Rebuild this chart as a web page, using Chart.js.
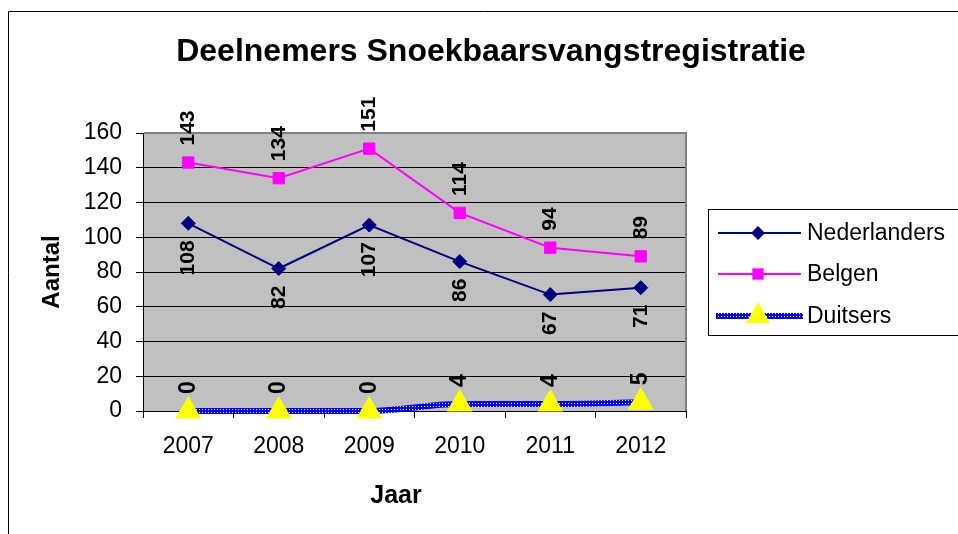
<!DOCTYPE html>
<html>
<head>
<meta charset="utf-8">
<script src="https://cdn.jsdelivr.net/npm/chart.js@4.4.0/dist/chart.umd.min.js"></script>
<style>
  html, body { margin: 0; padding: 0; background: #fff; }
</style>
</head>
<body>
<canvas id="snoekChart" width="958" height="534"></canvas>
<script>
/* ============================================================
   DATA
============================================================ */

const jaren        = ["2007", "2008", "2009", "2010", "2011", "2012"];
const nederlanders = [108, 82, 107, 86, 67, 71];
const belgen       = [143, 134, 151, 114, 94, 89];
const duitsers     = [0, 0, 0, 4, 4, 5];
const yTicks       = [0, 20, 40, 60, 80, 100, 120, 140, 160];

const FONT = '"Liberation Sans", Arial, sans-serif';

/* patroon voor de Duitsers-lijn (blauw met witte stipjes) */
const pat = document.createElement("canvas");
pat.width = 3; pat.height = 3;
const pctx = pat.getContext("2d");
pctx.fillStyle = "#0000ff";
pctx.fillRect(0, 0, 3, 3);
pctx.fillStyle = "#ffffff";
pctx.fillRect(1, 1, 1, 1);
const blauwPatroon = pctx.createPattern(pat, "repeat");

/* ============================================================
   PLUGIN: grijs plotvlak, labels, legenda, titels
============================================================ */

const excelLook = {
    id: "excelLook",
    beforeDraw(chart) {
        const { ctx, chartArea: a } = chart;
        ctx.save();
        ctx.fillStyle = "#c0c0c0";
        ctx.fillRect(a.left, a.top, a.right - a.left, a.bottom - a.top);
        ctx.restore();
    },
    beforeDatasetsDraw(chart) {
        const { ctx, chartArea: a } = chart;
        ctx.save();
        ctx.strokeStyle = "#808080";
        ctx.lineWidth = 2;
        ctx.beginPath();
        ctx.moveTo(a.left + 1, a.top);
        ctx.lineTo(a.right, a.top);
        ctx.lineTo(a.right, a.bottom);
        ctx.stroke();
        ctx.restore();
    },
    afterDatasetsDraw(chart) {
        const ctx = chart.ctx;
        chart.data.datasets.forEach((ds, i) => {
            const below = ds.labelBelow;
            const meta = chart.getDatasetMeta(i);
            meta.data.forEach((pt, j) => {
                ctx.save();
                ctx.translate(pt.x, pt.y + (below ? 17 : -17));
                ctx.rotate(-Math.PI / 2);
                ctx.font = "bold " + ds.labelSize + "px " + FONT;
                ctx.fillStyle = "#000";
                ctx.textAlign = below ? "right" : "left";
                ctx.textBaseline = "middle";
                ctx.fillText(String(ds.data[j]), 0, 0);
                ctx.restore();
            });
        });
    },
    afterDraw(chart) {
        const ctx = chart.ctx;
        ctx.save();

        // hoofdtitel
        ctx.fillStyle = "#000";
        ctx.font = "bold 32px " + FONT;
        ctx.textAlign = "center";
        ctx.textBaseline = "alphabetic";
        ctx.fillText("Deelnemers Snoekbaarsvangstregistratie", 491, 61);

        // x-as titel
        ctx.font = "bold 25px " + FONT;
        ctx.fillText("Jaar", 396, 503);

        // legenda
        ctx.strokeStyle = "#000";
        ctx.lineWidth = 1;
        ctx.strokeRect(708.5, 209.5, 270, 126);
        const rijen = [233, 274, 316];
        chart.data.datasets.forEach((ds, i) => {
            const y = rijen[i];
            ctx.strokeStyle = ds.borderColor;
            ctx.lineWidth = ds.borderWidth;
            ctx.beginPath();
            ctx.moveTo(ds.legendLineStart, y);
            ctx.lineTo(ds.legendLineEnd, y);
            ctx.stroke();
            ctx.fillStyle = ds.pointBackgroundColor;
            ctx.strokeStyle = ds.pointBackgroundColor;
            Chart.helpers.drawPoint(ctx, {
                pointStyle: ds.pointStyle,
                radius: ds.legendRadius,
                rotation: 0,
                borderWidth: 0
            }, 758, y);
            ctx.fillStyle = "#000";
            ctx.font = "23px " + FONT;
            ctx.textAlign = "left";
            ctx.textBaseline = "middle";
            ctx.fillText(ds.label, 807, y + 1);
        });

        // kader rond grafiek
        ctx.strokeStyle = "#000";
        ctx.lineWidth = 1;
        ctx.beginPath();
        ctx.moveTo(8.5, 534);
        ctx.lineTo(8.5, 11.5);
        ctx.lineTo(958, 11.5);
        ctx.stroke();

        ctx.restore();
    }
};

/* ============================================================
   GRAFIEK
============================================================ */

const ctx = document.getElementById("snoekChart");
new Chart(ctx, {
    type: "line",
    data: {
        labels: jaren,
        datasets: [
            {
                label: "Nederlanders",
                data: nederlanders,
                borderColor: "#000080",
                borderWidth: 2,
                pointStyle: "rectRot",
                pointRadius: 7,
                pointBackgroundColor: "#000080",
                pointBorderColor: "#000080",
                pointBorderWidth: 1,
                tension: 0,
                clip: false,
                labelBelow: true,
                labelSize: 21,
                legendRadius: 7,
                legendLineStart: 718,
                legendLineEnd: 801
            },
            {
                label: "Belgen",
                data: belgen,
                borderColor: "#ff00ff",
                borderWidth: 2,
                pointStyle: "rect",
                pointRadius: 8,
                pointBackgroundColor: "#ff00ff",
                pointBorderColor: "#ff00ff",
                pointBorderWidth: 1,
                tension: 0,
                clip: false,
                labelBelow: false,
                labelSize: 21,
                legendRadius: 8,
                legendLineStart: 718,
                legendLineEnd: 801
            },
            {
                label: "Duitsers",
                data: duitsers,
                borderColor: blauwPatroon,
                borderWidth: 6,
                pointStyle: "triangle",
                pointRadius: 15,
                pointBackgroundColor: "#ffff00",
                pointBorderColor: "#ffff00",
                pointBorderWidth: 0,
                cubicInterpolationMode: "monotone",
                clip: false,
                labelBelow: false,
                labelSize: 23,
                legendRadius: 14,
                legendLineStart: 716,
                legendLineEnd: 803
            }
        ]
    },
    options: {
        responsive: false,
        animation: false,
        devicePixelRatio: 1,
        layout: { padding: { left: 0, right: 272, top: 133, bottom: 0 } },
        plugins: {
            legend: { display: false },
            title: { display: false },
            tooltip: { enabled: false }
        },
        scales: {
            x: {
                offset: true,
                afterFit(scale) { scale.height = 123; },
                grid: {
                    offset: true,
                    drawOnChartArea: false,
                    drawTicks: true,
                    tickLength: 7,
                    color: "#000"
                },
                border: { color: "#000", width: 1 },
                ticks: {
                    color: "#000",
                    font: { family: FONT, size: 23 },
                    padding: 15,
                    maxRotation: 0
                }
            },
            y: {
                min: 0,
                max: 160,
                afterFit(scale) { scale.width = 143; },
                afterBuildTicks(scale) { scale.ticks = yTicks.map(v => ({ value: v })); },
                grid: {
                    color: "#000",
                    lineWidth: 1,
                    drawTicks: true,
                    tickLength: 7
                },
                border: { color: "#000", width: 1 },
                ticks: {
                    color: "#000",
                    font: { family: FONT, size: 23 },
                    padding: 14
                },
                title: {
                    display: true,
                    text: "Aantal",
                    color: "#000",
                    font: { family: FONT, size: 24, weight: "bold" },
                    padding: { top: 38, bottom: 0 }
                }
            }
        }
    },
    plugins: [excelLook]
});
</script>
</body>
</html>
